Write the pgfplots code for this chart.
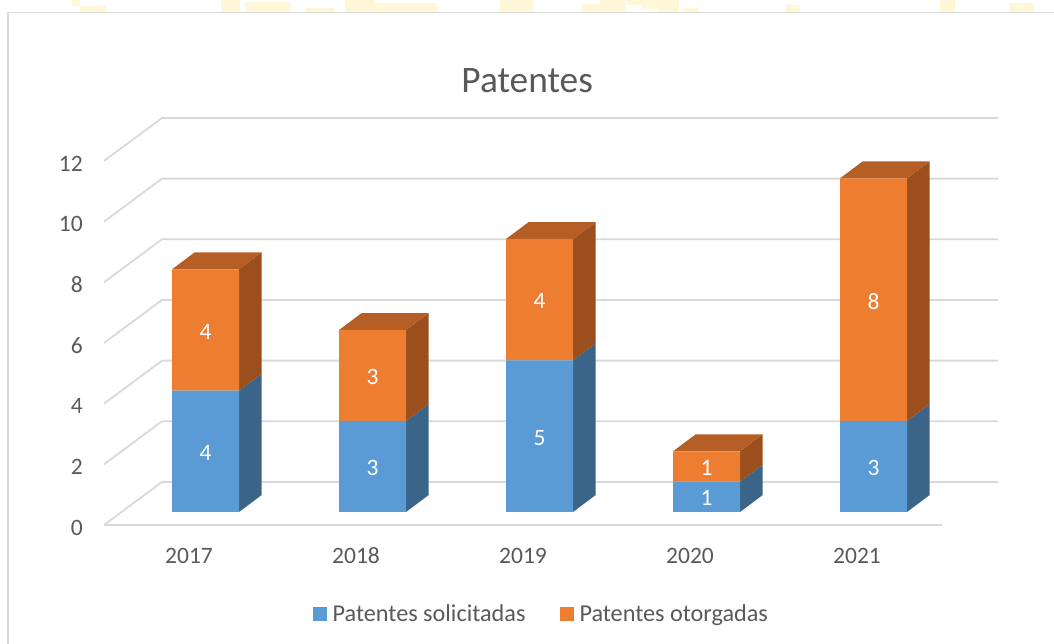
\documentclass[border=0pt]{standalone}
\usepackage{pgfplots}
\pgfplotsset{compat=1.18}
\usepackage{fontspec}
\setmainfont{Carlito}
\definecolor{txt}{HTML}{595959}
\definecolor{gridc}{HTML}{D9D9D9}
\definecolor{blueF}{HTML}{5B9BD5}
\definecolor{blueS}{HTML}{3A6488}
\definecolor{orF}{HTML}{ED7D31}
\definecolor{orS}{HTML}{9A4F1C}
\definecolor{orT}{HTML}{B55E25}
\definecolor{wm}{HTML}{FFF8D8}
\pgfplotsset{
  geom/.style={scale only axis, width=838pt, height=364pt, xmin=-0.509, xmax=4.509, ymin=0, ymax=12, clip=false},
  over/.style={geom, at={(16.5pt,13pt)}, anchor=south west, hide axis},
  gl/.style={color=gridc, solid, line width=1.8pt, mark=none},
}
\begin{document}
\begin{tikzpicture}[x=1pt,y=1pt]
\path[use as bounding box] (-104,-119) rectangle (950,525);
% faint remains of a watermark above the chart frame (pixel positions)
\begin{scope}[shift={(-104,525)},y=-1pt]
\fill[wm] (72,0) rectangle (80,6) (80,6) rectangle (106,12)
  (221,0) rectangle (240,12) (245,2) rectangle (290,12)
  (305,8) rectangle (335,12) (345,0) rectangle (375,12)
  (375,3) rectangle (437,12) (500,0) rectangle (533,12)
  (582,4) rectangle (605,12) (600,0) rectangle (626,12)
  (627,0) rectangle (642,5) (642,0) rectangle (657,9) (657,0) rectangle (679,12)
  (684,8) rectangle (699,12) (785,5) rectangle (800,12)
  (940,0) rectangle (955,12) (1009,3) rectangle (1034,12);
\end{scope}
\draw[gridc,line width=1.8pt] (-96,-119) -- (-96,512.5) -- (950,512.5);
% walls, floor, ticks
\begin{axis}[geom, at={(0pt,0pt)}, anchor=south west,
  axis line style={draw=none}, major tick length=0pt,
  xtick={0,1,2,3,4}, xticklabels={2017,2018,2019,2020,2021},
  ytick={0,2,4,6,8,10,12},
  /pgf/number format/assume math mode=true,
  tick label style={font=\fontsize{23.5}{28}\selectfont, text=txt},
  yticklabel style={inner sep=0pt, xshift=-21pt, yshift=-2.5pt},
  xticklabel style={inner sep=0pt, anchor=center, yshift=-31pt},
  title={Patentes},
  title style={at={(0.505,1.2035)}, anchor=center, font=\fontsize{37.4}{42}\selectfont, text=txt},
]
\addplot[gl] coordinates {(-0.509,0) (-0.162,1.418) (4.844,1.418)};
\addplot[gl] coordinates {(-0.509,2) (-0.162,3.418) (4.844,3.418)};
\addplot[gl] coordinates {(-0.509,4) (-0.162,5.418) (4.844,5.418)};
\addplot[gl] coordinates {(-0.509,6) (-0.162,7.418) (4.844,7.418)};
\addplot[gl] coordinates {(-0.509,8) (-0.162,9.418) (4.844,9.418)};
\addplot[gl] coordinates {(-0.509,10) (-0.162,11.418) (4.844,11.418)};
\addplot[gl] coordinates {(-0.509,12) (-0.162,13.418) (4.844,13.418)};
\addplot[gl] coordinates {(-0.509,0) (4.509,0)};
\end{axis}
% side and top faces of the bars
\begin{axis}[over]
\pgfplotsset{every axis plot/.append style={draw=none, no marks}}
% 2017
\addplot[fill=blueS] coordinates {(0.2006,0) (0.3366,0.56) (0.3366,4.56) (0.2006,4)};
\addplot[fill=orS] coordinates {(0.2006,4) (0.3366,4.56) (0.3366,8.56) (0.2006,8)};
\addplot[fill=orT] coordinates {(-0.2006,8) (0.2006,8) (0.3366,8.56) (-0.0646,8.56)};
% 2018
\addplot[fill=blueS] coordinates {(1.2006,0) (1.3366,0.56) (1.3366,3.56) (1.2006,3)};
\addplot[fill=orS] coordinates {(1.2006,3) (1.3366,3.56) (1.3366,6.56) (1.2006,6)};
\addplot[fill=orT] coordinates {(0.7994,6) (1.2006,6) (1.3366,6.56) (0.9354,6.56)};
% 2019
\addplot[fill=blueS] coordinates {(2.2006,0) (2.3366,0.56) (2.3366,5.56) (2.2006,5)};
\addplot[fill=orS] coordinates {(2.2006,5) (2.3366,5.56) (2.3366,9.56) (2.2006,9)};
\addplot[fill=orT] coordinates {(1.7994,9) (2.2006,9) (2.3366,9.56) (1.9354,9.56)};
% 2020
\addplot[fill=blueS] coordinates {(3.2006,0) (3.3366,0.56) (3.3366,1.56) (3.2006,1)};
\addplot[fill=orS] coordinates {(3.2006,1) (3.3366,1.56) (3.3366,2.56) (3.2006,2)};
\addplot[fill=orT] coordinates {(2.7994,2) (3.2006,2) (3.3366,2.56) (2.9354,2.56)};
% 2021
\addplot[fill=blueS] coordinates {(4.2006,0) (4.3366,0.56) (4.3366,3.56) (4.2006,3)};
\addplot[fill=orS] coordinates {(4.2006,3) (4.3366,3.56) (4.3366,11.56) (4.2006,11)};
\addplot[fill=orT] coordinates {(3.7994,11) (4.2006,11) (4.3366,11.56) (3.9354,11.56)};
\end{axis}
% front faces
\begin{axis}[over, ybar stacked, bar width=67pt,
  legend columns=2,
  legend cell align=left,
  legend style={at={(0.5024,-0.28)}, anchor=center, draw=none, fill=none,
    font=\fontsize{24.2}{28}\selectfont, text=txt,
    /tikz/every even column/.append style={column sep=32.5pt}},
  legend image code/.code={\fill[#1] (0pt,-7pt) rectangle (14pt,7pt);\path (0pt,0pt) -- (17.5pt,0pt);},
]
\addplot[fill=blueF, draw=none] coordinates {(0,4) (1,3) (2,5) (3,1) (4,3)};
\addlegendentry{Patentes solicitadas}
\addplot[fill=orF, draw=none] coordinates {(0,4) (1,3) (2,4) (3,1) (4,8)};
\addlegendentry{Patentes otorgadas}
\end{axis}
% data labels
\begin{axis}[over, nodes near coords, point meta=explicit symbolic,
  every node near coord/.append style={anchor=center, yshift=-1.5pt, text=white, font=\fontsize{23.5}{28}\selectfont}]
\addplot[only marks, mark=none] table[meta=v] {
x y v
0 2 4
1 1.5 3
2 2.5 5
3 0.5 1
4 1.5 3
0 6 4
1 4.5 3
2 7 4
3 1.5 1
4 7 8
};
\end{axis}
\end{tikzpicture}
\end{document}
